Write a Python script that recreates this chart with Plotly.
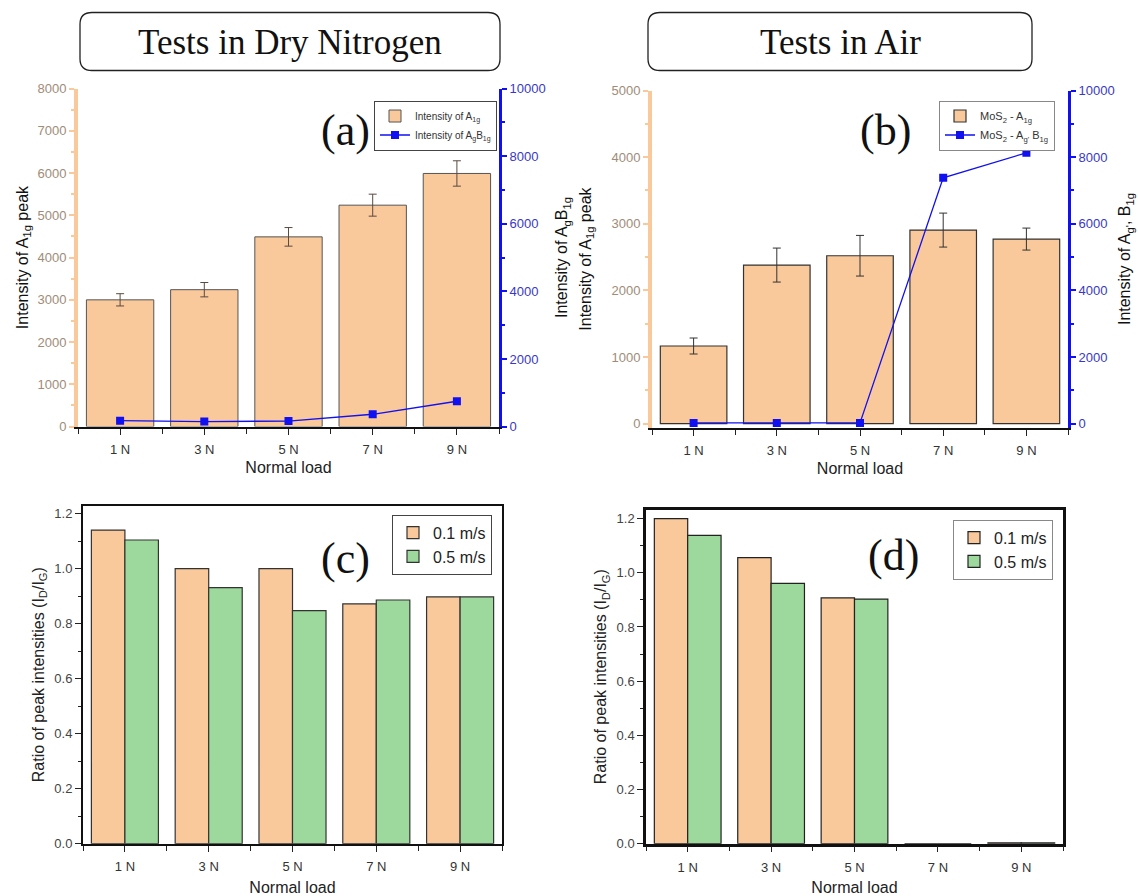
import plotly.graph_objects as go

# ---------------- data ----------------
loads = ["1 N", "3 N", "5 N", "7 N", "9 N"]

# (a) tests in dry nitrogen
a1g_n2 = [3000, 3240, 4490, 5240, 5990]
a1g_n2_err = [145, 170, 220, 260, 300]
agb1g_n2 = [175, 150, 165, 365, 750]

# (b) tests in air
a1g_air = [1165, 2380, 2520, 2905, 2770]
a1g_air_err = [120, 255, 305, 255, 165]
agb1g_air = [20, 20, 20, 7380, 8130]

# (c) ratio ID/IG, dry nitrogen
ratio_n2_01 = [1.140, 1.000, 1.000, 0.872, 0.897]
ratio_n2_05 = [1.104, 0.931, 0.847, 0.886, 0.897]

# (d) ratio ID/IG, air
ratio_air_01 = [1.200, 1.056, 0.907, 0, 0.003]
ratio_air_05 = [1.138, 0.961, 0.903, 0, 0.003]

xpos = list(range(len(loads)))

# ---------------- styles ----------------
ORANGE = "#f9c89b"
GREEN = "#9dd99c"
BLUE = "#1010f0"
TAN = "#a08c78"
BLUEFONT = "#3838c8"
SANS = "Liberation Sans, Arial, sans-serif"
SERIF = "Liberation Serif, Times New Roman, serif"

W, H = 1138, 896


def px(x):
    return x / W


def py(y):
    # vertical pixel position -> paper fraction (with small photo calibration)
    y_int = (y - 6.5) / 0.983
    return 1 - y_int / H


fig = go.Figure()

# (a)
fig.add_trace(go.Bar(x=xpos, y=a1g_n2, name="Intensity of A<sub>1g</sub>",
                     marker=dict(color=ORANGE, line=dict(color="#555", width=1)),
                     error_y=dict(type="data", array=a1g_n2_err, color="#5a4a40", thickness=1, width=4),
                     xaxis="x", yaxis="y", legend="legend"))
fig.add_trace(go.Scatter(x=xpos, y=agb1g_n2, name="Intensity of A<sub>g</sub>B<sub>1g</sub>",
                         mode="lines+markers", line=dict(color=BLUE, width=1.3),
                         marker=dict(symbol="square", size=8, color=BLUE),
                         xaxis="x", yaxis="y2", legend="legend"))
# (b)
fig.add_trace(go.Bar(x=xpos, y=a1g_air, name="MoS<sub>2</sub> - A<sub>1g</sub>",
                     marker=dict(color=ORANGE, line=dict(color="#333", width=1.2)),
                     error_y=dict(type="data", array=a1g_air_err, color="#333", thickness=1, width=4),
                     xaxis="x2", yaxis="y3", legend="legend2"))
fig.add_trace(go.Scatter(x=xpos, y=agb1g_air, name="MoS<sub>2</sub> - A<sub>g'</sub> B<sub>1g</sub>",
                         mode="lines+markers", line=dict(color=BLUE, width=1.3),
                         marker=dict(symbol="square", size=8, color=BLUE),
                         xaxis="x2", yaxis="y4", legend="legend2"))
# (c)
fig.add_trace(go.Bar(x=xpos, y=ratio_n2_01, name="0.1 m/s",
                     marker=dict(color=ORANGE, line=dict(color="#333", width=1.2)),
                     xaxis="x3", yaxis="y5", legend="legend3"))
fig.add_trace(go.Bar(x=xpos, y=ratio_n2_05, name="0.5 m/s",
                     marker=dict(color=GREEN, line=dict(color="#333", width=1.2)),
                     xaxis="x3", yaxis="y5", legend="legend3"))
# (d)
fig.add_trace(go.Bar(x=xpos, y=ratio_air_01, name="0.1 m/s",
                     marker=dict(color=ORANGE, line=dict(color="#222", width=1.2)),
                     xaxis="x4", yaxis="y6", legend="legend4"))
fig.add_trace(go.Bar(x=xpos, y=ratio_air_05, name="0.5 m/s",
                     marker=dict(color=GREEN, line=dict(color="#222", width=1.2)),
                     xaxis="x4", yaxis="y6", legend="legend4"))


def xaxis_cfg(domain, anchor, lw=2, standoff=6):
    return dict(domain=domain, anchor=anchor, range=[-0.5, len(loads) - 0.5],
                tickmode="array", tickvals=xpos, ticktext=loads,
                ticks="outside", ticklen=6, tickwidth=1.2, tickcolor="#222",
                ticklabelstandoff=4,
                minor=dict(ticks="outside", dtick=0.5, tick0=0.5, ticklen=5, tickcolor="#222"),
                showline=True, linecolor="#111", linewidth=lw, mirror=False,
                showgrid=False, zeroline=False,
                tickfont=dict(family=SANS, size=13, color="#333"),
                title=dict(text="Normal load", font=dict(family=SANS, size=16, color="#222"),
                           standoff=standoff))


def top_axis(overlay, anchor, lw=2):
    return dict(overlaying=overlay, anchor=anchor, side="top", range=[-0.5, len(loads) - 0.5],
                tickmode="array", tickvals=xpos, showticklabels=False,
                ticks="inside", ticklen=6, tickwidth=1.2, tickcolor="#222",
                minor=dict(ticks="inside", dtick=0.5, tick0=0.5, ticklen=4, tickcolor="#222"),
                showline=True, linecolor="#111", linewidth=lw, showgrid=False, zeroline=False)


def left_int_axis(domain, anchor, rng, dtick, title, standoff=6):
    return dict(domain=domain, anchor=anchor, range=rng, dtick=dtick, tick0=0, tickformat="d",
                ticks="outside", ticklen=5, tickcolor=ORANGE, tickwidth=1.5,
                minor=dict(ticks="outside", dtick=dtick / 2, ticklen=3, tickcolor=ORANGE),
                showline=True, linecolor=ORANGE, linewidth=4, showgrid=False, zeroline=False,
                tickfont=dict(family=SANS, size=13, color=TAN),
                title=dict(text=title, font=dict(family=SANS, size=16, color="#111"), standoff=standoff))


def right_int_axis(overlay, anchor, rng, title, standoff=6):
    return dict(overlaying=overlay, anchor=anchor, side="right", range=rng, dtick=2000, tick0=0,
                tickformat="d",
                ticks="outside", ticklen=5, tickcolor=BLUE, tickwidth=1.5,
                minor=dict(ticks="outside", dtick=1000, ticklen=3, tickcolor=BLUE),
                showline=True, linecolor=BLUE, linewidth=3, showgrid=False, zeroline=False,
                tickfont=dict(family=SANS, size=13, color=BLUEFONT),
                title=dict(text=title, font=dict(family=SANS, size=16, color="#111"), standoff=standoff))


def ratio_axis(domain, anchor, rng, lw=2):
    return dict(domain=domain, anchor=anchor, range=rng, dtick=0.2, tick0=0, tickformat=".1f",
                ticks="outside", ticklen=6, tickwidth=1.2, tickcolor="#222",
                minor=dict(ticks="outside", dtick=0.1, ticklen=3, tickcolor="#222"),
                showline=True, linecolor="#111", linewidth=lw, mirror=True,
                showgrid=False, zeroline=False,
                tickfont=dict(family=SANS, size=13, color="#444"),
                title=dict(text="Ratio of peak intensities (I<sub>D</sub>/I<sub>G</sub>)",
                           font=dict(family=SANS, size=16, color="#222"), standoff=6))


dom_a_x = [px(78), px(499)]
dom_a_y = [py(426), py(88)]
dom_b_x = [px(652), px(1068)]
dom_b_y = [py(427), py(90)]
dom_c_x = [px(83), px(502)]
dom_c_y = [py(843), py(505)]
dom_d_x = [px(646), px(1063)]
dom_d_y = [py(843), py(509)]

xc = xaxis_cfg(dom_c_x, "y5", standoff=8)
xc["mirror"] = True
xd = xaxis_cfg(dom_d_x, "y6", lw=2.5, standoff=8)
xd["mirror"] = True

fig.update_layout(
    width=W, height=H, margin=dict(l=0, r=0, t=0, b=0),
    paper_bgcolor="white", plot_bgcolor="white",
    barmode="group", bargap=0.2, bargroupgap=0,
    showlegend=True,
    xaxis=xaxis_cfg(dom_a_x, "y"),
    xaxis5=top_axis("x", "y"),
    yaxis=left_int_axis(dom_a_y, "x", [0, 8000], 1000, "Intensity of A<sub>1g</sub> peak"),
    yaxis2=right_int_axis("y", "x", [0, 10000], "Intensity of A<sub>g</sub>B<sub>1g</sub>", standoff=12),
    xaxis2=xaxis_cfg(dom_b_x, "y3"),
    xaxis6=top_axis("x2", "y3"),
    yaxis3=left_int_axis(dom_b_y, "x2", [-60, 5000], 1000, "Intensity of A<sub>1g</sub> peak", standoff=17),
    yaxis4=right_int_axis("y3", "x2", [-120, 10000], "Intensity of A<sub>g'</sub>, B<sub>1g</sub>"),
    xaxis3=xc,
    yaxis5=ratio_axis(dom_c_y, "x3", [0, 1.229]),
    xaxis4=xd,
    yaxis6=ratio_axis(dom_d_y, "x4", [0, 1.233], lw=2.5),
    legend=dict(x=px(497), y=py(100), xanchor="right", yanchor="top",
                bgcolor="white", bordercolor="#444", borderwidth=1,
                font=dict(family=SANS, size=10, color="#333"), tracegroupgap=0, itemwidth=30),
    legend2=dict(x=px(1055), y=py(100), xanchor="right", yanchor="top",
                 bgcolor="white", bordercolor="#888", borderwidth=1,
                 font=dict(family=SANS, size=11, color="#333"), tracegroupgap=0, itemwidth=30),
    legend3=dict(x=px(492), y=py(514), xanchor="right", yanchor="top",
                 bgcolor="white", bordercolor="#444", borderwidth=1,
                 font=dict(family=SANS, size=16, color="#222"), tracegroupgap=0, itemwidth=30),
    legend4=dict(x=px(1053), y=py(519), xanchor="right", yanchor="top",
                 bgcolor="white", bordercolor="#888", borderwidth=1,
                 font=dict(family=SANS, size=16, color="#222"), tracegroupgap=0, itemwidth=30),
)


def rounded_rect(x0p, y0p, x1p, y1p, r=12):
    # pixel coordinates -> paper path with rounded corners
    rx, ry = r / W, r / H
    X0, X1 = px(x0p), px(x1p)
    Yt, Yb = py(y0p), py(y1p)
    return (f"M{X0 + rx},{Yt} L{X1 - rx},{Yt} Q{X1},{Yt} {X1},{Yt - ry} "
            f"L{X1},{Yb + ry} Q{X1},{Yb} {X1 - rx},{Yb} "
            f"L{X0 + rx},{Yb} Q{X0},{Yb} {X0},{Yb + ry} "
            f"L{X0},{Yt - ry} Q{X0},{Yt} {X0 + rx},{Yt} Z")


for box in [(80, 12, 500, 70), (648, 12, 1032, 70)]:
    fig.add_shape(type="path", xref="paper", yref="paper", path=rounded_rect(*box),
                  line=dict(color="#222", width=1.3), fillcolor="rgba(0,0,0,0)")

titles = [("Tests in Dry Nitrogen", 290), ("Tests in Air", 840)]
for text, xc_ in titles:
    fig.add_annotation(x=px(xc_), y=py(42), xref="paper", yref="paper", text=text,
                       xanchor="center", yanchor="middle",
                       showarrow=False, font=dict(family=SERIF, size=35, color="#111"))

labels = [("(a)", 345, 130), ("(b)", 885, 130), ("(c)", 345, 558), ("(d)", 893, 555)]
for text, x_, y_ in labels:
    fig.add_annotation(x=px(x_), y=py(y_), xref="paper", yref="paper", text=text,
                       xanchor="center", yanchor="middle",
                       showarrow=False, font=dict(family=SERIF, size=44, color="#111"))

fig.write_html(
    "out.html",
    config={"displayModeBar": False},
    post_script=("document.body.style.margin='0';"
                 "document.body.style.overflow='hidden';"
                 "document.documentElement.style.overflow='hidden';"),
)
